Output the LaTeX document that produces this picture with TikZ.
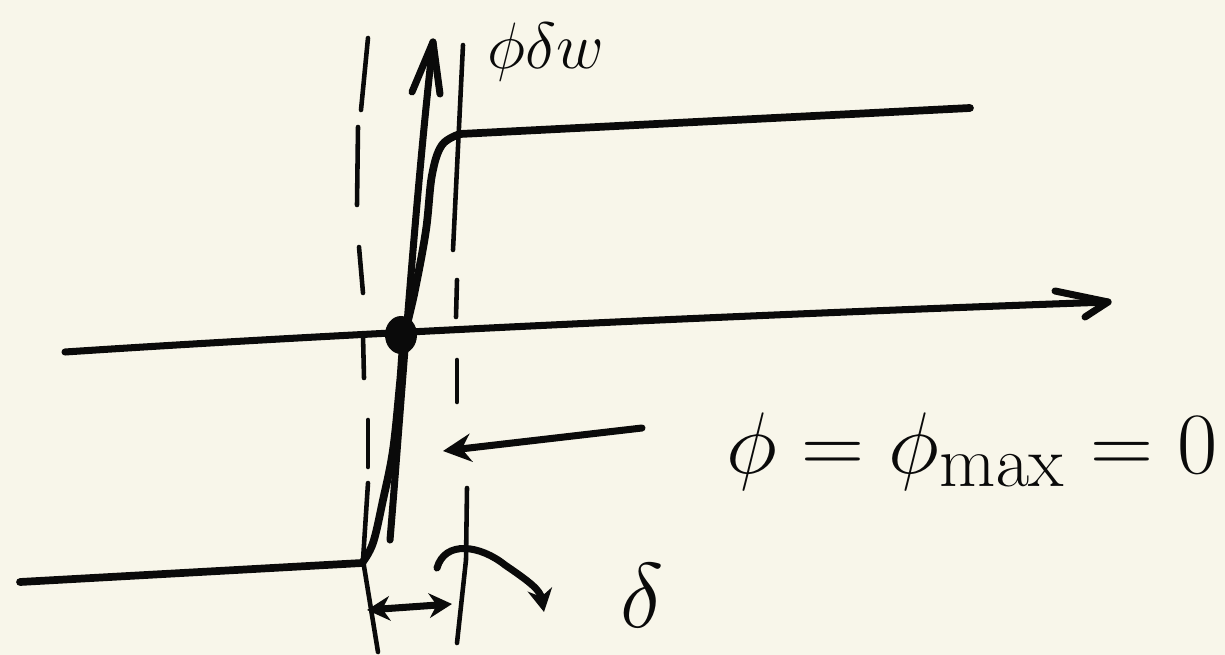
\documentclass[tikz,border=0pt]{standalone}
\usepackage{graphicx}
\usetikzlibrary{arrows.meta}
\definecolor{paper}{RGB}{248,246,234}
\definecolor{ink}{RGB}{10,10,10}
\begin{document}
\begin{tikzpicture}[x=0.02cm,y=-0.02cm,
  heavy/.style={draw=ink,line width=4pt,line cap=round,line join=round},
  thin/.style={draw=ink,line width=2.6pt,line cap=round,line join=round},
  hand/.style={text=ink,inner sep=0pt,font=\Huge}]
\fill[paper] (0,0) rectangle (1225,655);
\useasboundingbox (0,0) rectangle (1225,655);

% coordinates
\coordinate (axL) at (65,352);
\coordinate (axM1) at (400,330);
\coordinate (axM2) at (800,313);
\coordinate (axR) at (1108,302);
\coordinate (axU) at (1055,291);
\coordinate (axD) at (1085,317);

\coordinate (vB) at (390,540);
\coordinate (vT) at (433,42);
\coordinate (vTl) at (412,92);
\coordinate (vTr) at (440,94);

% left dashed boundary
\draw[thin] (368,38) -- (361,110);
\draw[thin] (358,127) -- (357,205);
\draw[thin] (359,247) -- (363,293);
\draw[thin] (363,335) -- (364,378);
\draw[thin] (368,420) -- (368,467);
\draw[thin] (368,483) -- (363,560) -- (378,652);

% right dashed boundary
\draw[thin] (463,45) -- (453,250);
\draw[thin] (457,280) -- (456,317);
\draw[thin] (457,360) -- (457,402);
\draw[thin] (467,488) -- (466,560) -- (457,643);

% horizontal axis
\draw[heavy] (axL) .. controls (axM1) and (axM2) .. (axR);
\draw[heavy] (axU) -- (axR) -- (axD);

% vertical axis
\draw[heavy] (vB) .. controls (400,420) and (415,200) .. (vT);
\draw[heavy] (vTl) -- (vT) -- (vTr);

% potential curve
\draw[heavy,line width=4.4pt] (20,582) -- (362,563)
  plot[smooth,tension=0.6] coordinates {(362,563) (373,543) (383,500) (393,450) (400,383) (404,340) (415,290) (426,230) (432,175) (442,145) (460,134)}
  -- (970,108);

% dot
\fill[ink] (401,335) ellipse [x radius=16, y radius=19];

% arrow to the right boundary
\coordinate (pA) at (642,428);
\coordinate (pB) at (443,451);
\draw[heavy,-{Stealth[length=16pt,width=16pt]}] (pA) -- (pB);

% delta double arrow
\coordinate (dL) at (367,610);
\coordinate (dR) at (452,604);
\draw[heavy,{Stealth[length=13pt,width=14pt]}-{Stealth[length=13pt,width=14pt]}] (dL) -- (dR);

% curved pointer to delta
\coordinate (cS) at (437,568);
\coordinate (cE) at (544,612);
\draw[heavy,-{Stealth[length=13pt,width=14pt]}] (cS) .. controls (445,540) and (480,545) .. (505,565)
  .. controls (530,582) and (540,590) .. (cE);

% labels
\node[hand] (lab) at (546,52) {\scalebox{1.5}{$\phi\delta w$}};
\node[hand] (dl) at (642,596) {\scalebox{2.1}{$\delta$}};
\node[hand,anchor=west] (eq) at (726,452) {\scalebox{2.0}{$\phi = \phi_{\max} = 0$}};
\end{tikzpicture}
\end{document}
